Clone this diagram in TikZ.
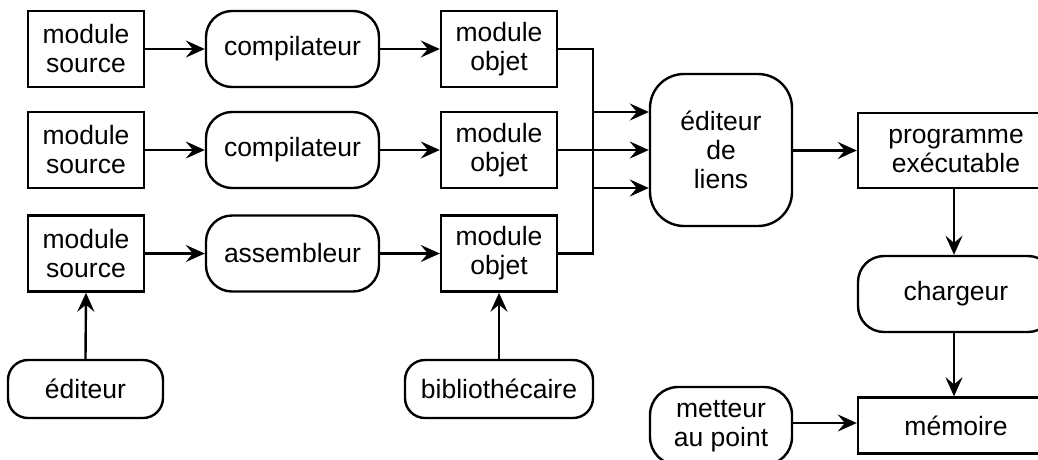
\documentclass[tikz,border=0pt]{standalone}
\usepackage{fontspec}
\setmainfont{Liberation Sans}
\usetikzlibrary{arrows.meta}
\begin{document}
\begin{tikzpicture}[x=1pt,y=-1pt,
  every node/.style={font=\fontsize{26.5}{29}\selectfont, align=center, inner sep=0pt, line width=2.4pt, draw},
  box/.style={rectangle, minimum width=116pt, minimum height=76pt},
  pill/.style={rectangle, rounded corners=26pt, minimum width=173pt, minimum height=76pt},
  arr/.style={line width=2.4pt, -{Stealth[length=19pt,width=17pt,inset=7pt]}},
  line width=2.4pt]
\useasboundingbox (0,0) rectangle (1038,459);
% row 1
\node[box] (s1) at (86,49) {module\\source};
\node[pill] (c1) at (292.5,49) {compilateur};
\node[box] (o1) at (499,49) {module\\objet};
% row 2
\node[box] (s2) at (86,150) {module\\source};
\node[pill] (c2) at (292.5,150) {compilateur};
\node[box] (o2) at (499,150) {module\\objet};
% row 3
\node[box] (s3) at (86,253.5) {module\\source};
\node[pill] (a3) at (292.5,253.5) {assembleur};
\node[box] (o3) at (499,253.5) {module\\objet};
% bottom tools
\node[pill, minimum width=155pt, minimum height=58pt, rounded corners=20pt] (ed) at (85.5,389) {éditeur};
\node[pill, minimum width=188pt, minimum height=58pt, rounded corners=20pt] (bib) at (499,389) {bibliothécaire};
% linker
\node[rectangle, rounded corners=34pt, minimum width=142pt, minimum height=152pt] (el) at (721,150) {éditeur\\de\\liens};
% right column
\node[box, minimum width=196pt, minimum height=75pt] (pe) at (956,150.5) {programme\\exécutable};
\node[pill, minimum width=196pt, minimum height=76pt] (ch) at (956,294) {chargeur};
\node[box, minimum width=196pt, minimum height=56pt] (me) at (956,425.5) {mémoire};
\node[pill, minimum width=142pt, minimum height=78pt, rounded corners=28pt] (mp) at (721,426) {metteur\\au point};
% coordinates
\coordinate (e1) at ([yshift=-38pt]el.west);
\coordinate (e3) at ([yshift=38pt]el.west);
% connectors
\draw[arr] (s1) -- (c1);
\draw[arr] (s2) -- (c2);
\draw[arr] (s3) -- (a3);
\draw[arr] (c1) -- (o1);
\draw[arr] (c2) -- (o2);
\draw[arr] (a3) -- (o3);
\draw[arr] (o1.east) -- (593,49) |- (e1);
\draw[arr] (o2.east) -- (o2.east -| el.west);
\draw[arr] (o3.east) -- (593,253.5) |- (e3);
\draw[arr] (el.east |- pe.west) -- (pe.west);
\draw[arr] (pe.south -| 954,0) -- (954,0 |- ch.north);
\draw[arr] (ch.south -| 954,0) -- (954,0 |- me.north);
\draw[arr] (mp.east |- 0,423) -- (me.west |- 0,423);
\draw[arr] (ed.north) -- (s3.south);
\draw[arr] (bib.north) -- (o3.south);
\end{tikzpicture}
\end{document}
